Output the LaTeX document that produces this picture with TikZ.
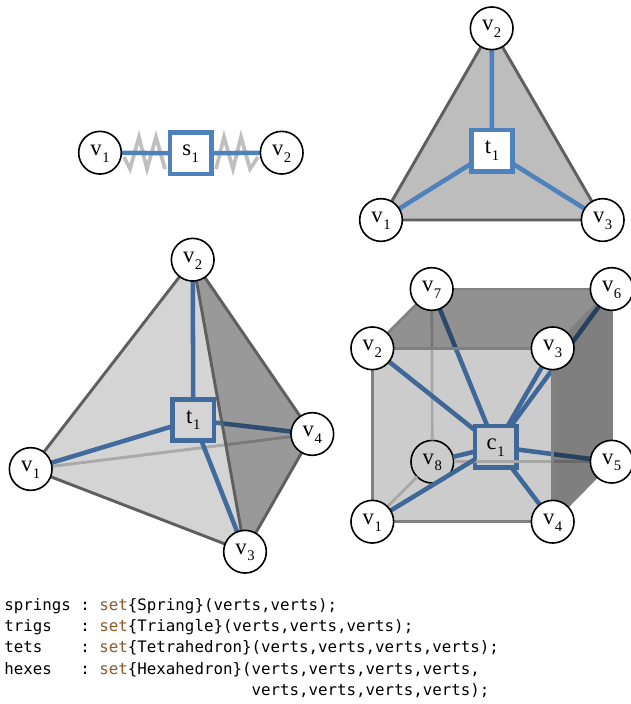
\documentclass[tikz,border=0pt]{standalone}
\usepackage{fontspec}
\setmainfont{Liberation Serif}
\setmonofont{DejaVu Sans Mono}
\pgfdeclarelayer{under}
\pgfdeclarelayer{faces}
\pgfdeclarelayer{edges}
\pgfsetlayers{under,faces,edges,main}
\definecolor{bluelink}{HTML}{4F81BD}
\definecolor{edgegray}{HTML}{5F5F5F}
\definecolor{setbrown}{HTML}{8A5A2B}
\newcommand{\lab}[2]{{\fontsize{17}{18}\selectfont\rule{0pt}{9pt}#1\kern0.4pt\raisebox{-5pt}{\fontsize{11}{12}\selectfont #2}}}
\tikzset{
  vert/.style={circle,draw=black,fill=white,line width=1.2pt,minimum size=32pt,inner sep=0pt,outer sep=0pt},
  elem/.style={rectangle,draw=bluelink,fill=white,line width=3.4pt,minimum size=31pt,inner sep=0pt,outer sep=0pt},
  link/.style={draw=bluelink,line width=3.4pt},
  wire/.style={draw=edgegray,line width=2.2pt},
  thinwire/.style={draw=edgegray,line width=2pt},
  coil/.style={draw=black!25,line width=2.8pt,line join=miter},
  shade/.style={fill=black,fill opacity=#1,draw=none},
}
\begin{document}
\begin{tikzpicture}[x=0.75pt,y=-0.75pt]
\useasboundingbox (0,0) rectangle (631,704);
\begin{pgfonlayer}{under}
\fill[white] (0,0) rectangle (631,704);
\end{pgfonlayer}

% spring
\node[vert] (sa) at (100,152.7) {\lab{v}{1}};
\node[vert] (sb) at (281.7,152.7) {\lab{v}{2}};
\node[elem] (ss) at (190.7,153.3) {\lab{s}{1}};
\coordinate (za) at (124,157);
\coordinate (zb) at (258,157);
\begin{pgfonlayer}{under}
\draw[coil] (za) -- (130,169) -- (139,137) -- (147,169) -- (156,137) -- (165,169);
\draw[coil] (216,169) -- (224,137) -- (233,169) -- (241,137) -- (250,169) -- (zb);
\end{pgfonlayer}
\begin{pgfonlayer}{edges}
\draw[link] (sa) -- (ss);
\draw[link] (ss) -- (sb);
\end{pgfonlayer}

% triangle
\node[vert] (ta) at (381,220) {\lab{v}{1}};
\node[vert] (tb) at (491.7,28.3) {\lab{v}{2}};
\node[vert] (tc) at (602.7,220) {\lab{v}{3}};
\node[elem] (tt) at (492,150.7) {\lab{t}{1}};
\begin{pgfonlayer}{under}
\fill[black!26] (ta.center) -- (tb.center) -- (tc.center) -- cycle;
\draw[wire] (ta.center) -- (tb.center) -- (tc.center) -- cycle;
\end{pgfonlayer}
\begin{pgfonlayer}{edges}
\draw[link] (tb) -- (tt);
\draw[link] (ta) -- (tt);
\draw[link] (tc) -- (tt);
\end{pgfonlayer}

% tetrahedron
\node[vert] (qa) at (30.7,469) {\lab{v}{1}};
\node[vert] (qb) at (192.7,259.7) {\lab{v}{2}};
\node[vert] (qc) at (245,551.7) {\lab{v}{3}};
\node[vert] (qd) at (312.3,434) {\lab{v}{4}};
\begin{pgfonlayer}{under}
\node[elem] (qt) at (193.3,420) {\lab{t}{1}};
\draw[wire,draw=black!20] (qa) -- (qd);
\draw[link] (qt) -- (qb);
\draw[link] (qt) -- (qa);
\draw[link] (qt) -- (qc);
\draw[link] (qt) -- (qd);
\end{pgfonlayer}
\begin{pgfonlayer}{faces}
\fill[shade=0.17] (qa.center) -- (qb.center) -- (qc.center) -- cycle;
\fill[shade=0.40] (qb.center) -- (qd.center) -- (qc.center) -- cycle;
\end{pgfonlayer}
\begin{pgfonlayer}{edges}
\draw[wire] (qa) -- (qb);
\draw[wire] (qb) -- (qd);
\draw[wire] (qd) -- (qc);
\draw[wire] (qc) -- (qa);
\draw[wire] (qb) -- (qc);
\end{pgfonlayer}

% hexahedron
\node[vert] (ha) at (372.3,521.7) {\lab{v}{1}};
\node[vert] (hb) at (372.3,348.3) {\lab{v}{2}};
\node[vert] (hc) at (552.7,348.3) {\lab{v}{3}};
\node[vert] (hd) at (552.7,521.7) {\lab{v}{4}};
\node[vert] (he) at (611.7,461.7) {\lab{v}{5}};
\node[vert] (hf) at (611.7,289) {\lab{v}{6}};
\node[vert] (hg) at (431.7,289) {\lab{v}{7}};
\begin{pgfonlayer}{under}
\node[vert] (hh) at (432.3,461.7) {\lab{v}{8}};
\node[elem] (hm) at (495.7,446.7) {\lab{c}{1}};
\draw[thinwire,draw=black!18] (hg) -- (hh);
\draw[thinwire,draw=black!18] (hh) -- (he);
\draw[thinwire,draw=black!18] (hh) -- (ha);
\draw[link] (hm) -- (ha);
\draw[link] (hm) -- (hb);
\draw[link] (hm) -- (hc);
\draw[link] (hm) -- (hd);
\draw[link] (hm) -- (he);
\draw[link] (hm) -- (hf);
\draw[link] (hm) -- (hg);
\draw[link] (hm) -- (hh);
\end{pgfonlayer}
\begin{pgfonlayer}{faces}
\fill[shade=0.20] (ha.center) -- (hb.center) -- (hc.center) -- (hd.center) -- cycle;
\fill[shade=0.43] (hb.center) -- (hg.center) -- (hf.center) -- (hc.center) -- cycle;
\fill[shade=0.50] (hc.center) -- (hf.center) -- (he.center) -- (hd.center) -- cycle;
\end{pgfonlayer}
\begin{pgfonlayer}{edges}
\draw[thinwire,draw=black!50] (ha) -- (hb);
\draw[thinwire,draw=black!50] (hb) -- (hc);
\draw[thinwire,draw=black!50] (hc) -- (hd);
\draw[thinwire,draw=black!50] (hd) -- (ha);
\draw[thinwire,draw=black!50] (hb) -- (hg);
\draw[thinwire,draw=black!50] (hg) -- (hf);
\draw[thinwire,draw=black!50] (hf) -- (he);
\draw[thinwire,draw=black!50] (he) -- (hd);
\draw[thinwire,draw=black!50] (hc) -- (hf);
\end{pgfonlayer}

% declarations
\node[anchor=north west,inner sep=0pt,align=left,font=\fontsize{11.85}{16}\selectfont\ttfamily] (code) at (4,598) {%
springs\ :\ \textcolor{setbrown}{set}\{Spring\}(verts,verts);\\
trigs\ \ \ :\ \textcolor{setbrown}{set}\{Triangle\}(verts,verts,verts);\\
tets\ \ \ \ :\ \textcolor{setbrown}{set}\{Tetrahedron\}(verts,verts,verts,verts);\\
hexes\ \ \ :\ \textcolor{setbrown}{set}\{Hexahedron\}(verts,verts,verts,verts,\\
\ \ \ \ \ \ \ \ \ \ \ \ \ \ \ \ \ \ \ \ \ \ \ \ \ \ verts,verts,verts,verts);};
\end{tikzpicture}
\end{document}
